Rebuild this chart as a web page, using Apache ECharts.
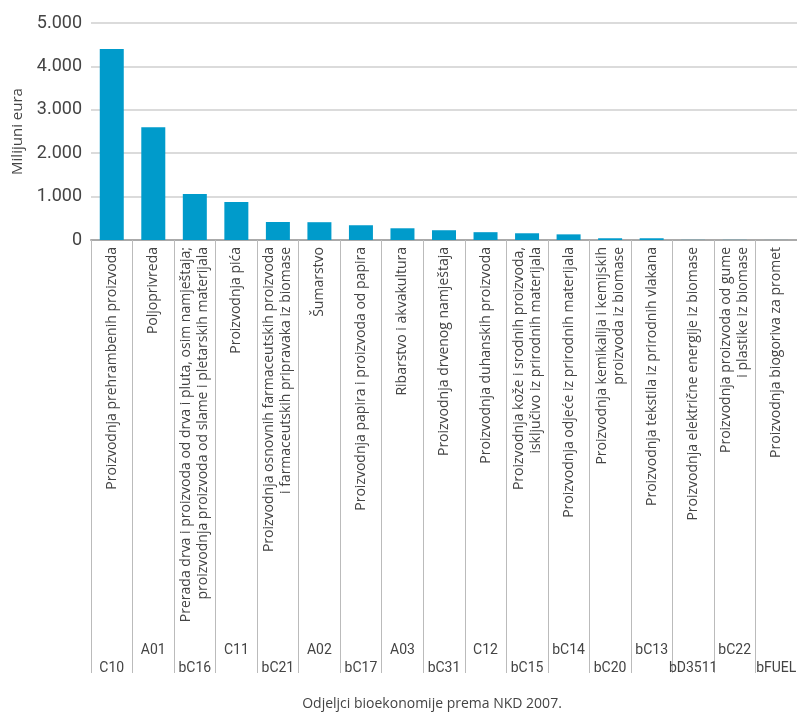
<!DOCTYPE html>
<html>
<head>
<meta charset="utf-8">
<script src="https://cdn.jsdelivr.net/npm/echarts@6/dist/echarts.min.js"></script>
<style>
  html, body { margin: 0; padding: 0; background: #fff; }
  #chart { width: 797px; height: 713px; }
</style>
</head>
<body>
<div id="chart"></div>
<script>
// kategorije (nazivi djelatnosti)
const categories = [
  'Proizvodnja prehrambenih proizvoda',
  'Poljoprivreda',
  'Prerada drva i proizvoda od drva i pluta, osim namještaja;\nproizvodnja proizvoda od slame i pletarskih materijala',
  'Proizvodnja pića',
  'Proizvodnja osnovnih farmaceutskih proizvoda\ni farmaceutskih pripravaka iz biomase',
  'Šumarstvo',
  'Proizvodnja papira i proizvoda od papira',
  'Ribarstvo i akvakultura',
  'Proizvodnja drvenog namještaja',
  'Proizvodnja duhanskih proizvoda',
  'Proizvodnja kože i srodnih proizvoda,\nisključivo iz prirodnih materijala',
  'Proizvodnja odjeće iz prirodnih materijala',
  'Proizvodnja kemikalija i kemijskih\nproizvoda iz biomase',
  'Proizvodnja tekstila iz prirodnih vlakana',
  'Proizvodnja električne energije iz biomase',
  'Proizvodnja proizvoda od gume\ni plastike iz biomase',
  'Proizvodnja biogoriva za promet'
]
// oznake NKD
const codes = ['C10', 'A01', 'bC16', 'C11', 'bC21', 'A02', 'bC17', 'A03', 'bC31',
  'C12', 'bC15', 'bC14', 'bC20', 'bC13', 'bD3511', 'bC22', 'bFUEL']
// vrijednosti u milijunima eura
const values = [4400, 2600, 1060, 875, 415, 410, 340, 270, 225, 180, 155, 130, 40, 40, 3, 3, 1]

const yMin = 0
const yMax = 5000
const yStep = 1000

const font = 'Open Sans'
const textColor = '#444'

function thousands(v) {
  return String(v).replace(/\B(?=(\d{3})+(?!\d))/g, '.')
}

const chart = echarts.init(document.getElementById('chart'))

const option = {
  animation: false,
  textStyle: { fontFamily: font },
  grid: { left: 91, right: 0, top: 23, bottom: 473, containLabel: false, outerBoundsMode: 'none' },
  xAxis: [
    {
      type: 'category',
      data: categories,
      axisLine: { lineStyle: { color: '#aaa', width: 2 } },
      // okomite crte između kategorija
      axisTick: { show: true, length: 433, lineStyle: { color: '#bbb', width: 1 } },
      axisLabel: {
        interval: 0,
        rotate: 90,
        margin: 7,
        fontSize: 14,
        lineHeight: 17,
        color: textColor,
        hideOverlap: false
      }
    },
    // donji red oznaka (parni indeksi)
    {
      type: 'category',
      data: codes,
      position: 'bottom',
      offset: 421,
      axisLine: { show: false },
      axisTick: { show: false },
      axisLabel: {
        interval: 0,
        margin: 0,
        fontSize: 14,
        fontFamily: 'Roboto',
        color: textColor,
        formatter: (v, i) => (i % 2 === 0 ? v : '')
      }
    },
    // gornji red oznaka (neparni indeksi)
    {
      type: 'category',
      data: codes,
      position: 'bottom',
      offset: 403,
      axisLine: { show: false },
      axisTick: { show: false },
      axisLabel: {
        interval: 0,
        margin: 0,
        fontSize: 14,
        fontFamily: 'Roboto',
        color: textColor,
        formatter: (v, i) => (i % 2 === 1 ? v : '')
      }
    }
  ],
  yAxis: {
    type: 'value',
    min: yMin,
    max: yMax,
    interval: yStep,
    name: 'Milijuni eura',
    nameLocation: 'middle',
    nameGap: 66,
    nameTextStyle: { fontSize: 15, color: textColor },
    axisLine: { show: false },
    axisTick: { show: false },
    axisLabel: { fontSize: 18, fontFamily: 'Roboto', color: textColor, margin: 9, formatter: thousands },
    splitLine: { lineStyle: { color: '#cfcfcf', width: 1.5 } }
  },
  graphic: [
    {
      type: 'text',
      x: 432,
      y: 704,
      style: {
        text: 'Odjeljci bioekonomije prema NKD 2007.',
        fontSize: 14,
        fontFamily: font,
        fill: textColor,
        align: 'center',
        verticalAlign: 'middle'
      }
    }
  ],
  series: [
    {
      type: 'bar',
      data: values,
      barWidth: 24,
      itemStyle: { color: '#009bcb' }
    }
  ]
}

chart.setOption(option)
</script>
</body>
</html>
